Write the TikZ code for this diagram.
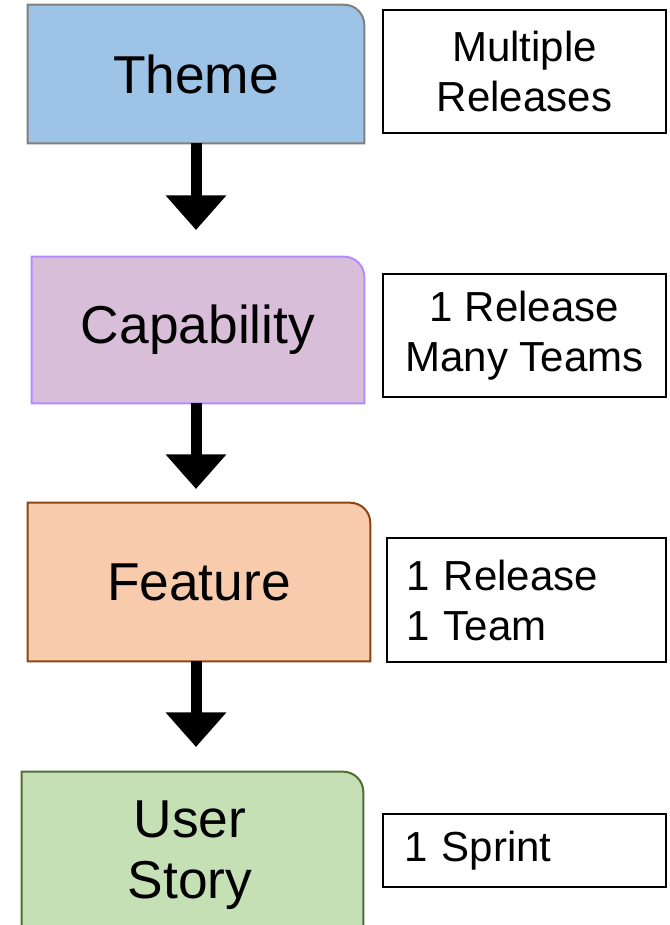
\documentclass[tikz,border=0pt]{standalone}
\usepackage{fontspec}
\setmainfont{Liberation Sans}
\usetikzlibrary{arrows.meta,backgrounds}
\definecolor{themefill}{RGB}{157,195,230}
\definecolor{themedraw}{RGB}{128,128,128}
\definecolor{capfill}{RGB}{216,190,216}
\definecolor{capdraw}{RGB}{178,140,255}
\definecolor{featfill}{RGB}{248,203,173}
\definecolor{featdraw}{RGB}{140,70,20}
\definecolor{storyfill}{RGB}{197,224,180}
\definecolor{storydraw}{RGB}{80,110,50}
\newcommand\tabshape[3]{%
  \begin{scope}[on background layer]
    \filldraw[fill=#2,draw=#3,line width=1.5pt]
      (#1.south west) -- (#1.north west) -- ([xshift=-15pt]#1.north east)
      arc[start angle=90,end angle=0,radius=15pt] -- (#1.south east) -- cycle;
  \end{scope}}
\begin{document}
\begin{tikzpicture}[x=0.75pt,y=-0.75pt,
  mainbox/.style={inner sep=0pt,align=center,font=\fontsize{40}{46}\selectfont},
  sidebox/.style={draw=black,line width=1.1pt,inner sep=0pt,font=\fontsize{31.5}{37.5}\selectfont},
  arr/.style={line width=8.25pt,-{Triangle[length=26pt,width=44pt]}}]
\useasboundingbox (0,0) rectangle (669,925);
\clip (0,0) rectangle (669,925);
% main boxes
\node[mainbox,minimum width=252pt,minimum height=103.5pt] (theme) at (196,74) {Theme};
\tabshape{theme}{themefill}{themedraw}
\node[mainbox,minimum width=249pt,minimum height=109.5pt] (cap) at (198,330) {Capability};
\tabshape{cap}{capfill}{capdraw}
\node[mainbox,minimum width=256.5pt,minimum height=118.5pt] (feat) at (199,582) {Feature};
\tabshape{feat}{featfill}{featdraw}
\node[mainbox,minimum width=255.75pt,minimum height=116.25pt] (story) at (192.5,849.5) {};
\tabshape{story}{storyfill}{storydraw}
\node[mainbox] (storytext) at (190,855) {User\\Story};
% side boxes
\node[sidebox,align=center,minimum width=212.25pt,minimum height=92.25pt] (s1) at (524.5,71.5) {Multiple\\Releases};
\node[sidebox,align=center,minimum width=212.25pt,minimum height=92.25pt] (s2) at (524.5,335.5) {1 Release\\Many Teams};
\node[sidebox,align=left,text width=180pt,minimum width=209.25pt,minimum height=93pt] (s3) at (526.5,600) {1 Release\\1 Team};
\node[sidebox,align=left,text width=180pt,minimum width=212.25pt,minimum height=54.75pt] (s4) at (524.5,850.5) {1 Sprint};
% arrows
\coordinate (t1) at (196,230);
\coordinate (t2) at (196,489);
\coordinate (t3) at (196,747);
\draw[arr] (theme.south -| t1) -- (t1);
\draw[arr] (cap.south -| t2) -- (t2);
\draw[arr] (feat.south -| t3) -- (t3);
\end{tikzpicture}
\end{document}
